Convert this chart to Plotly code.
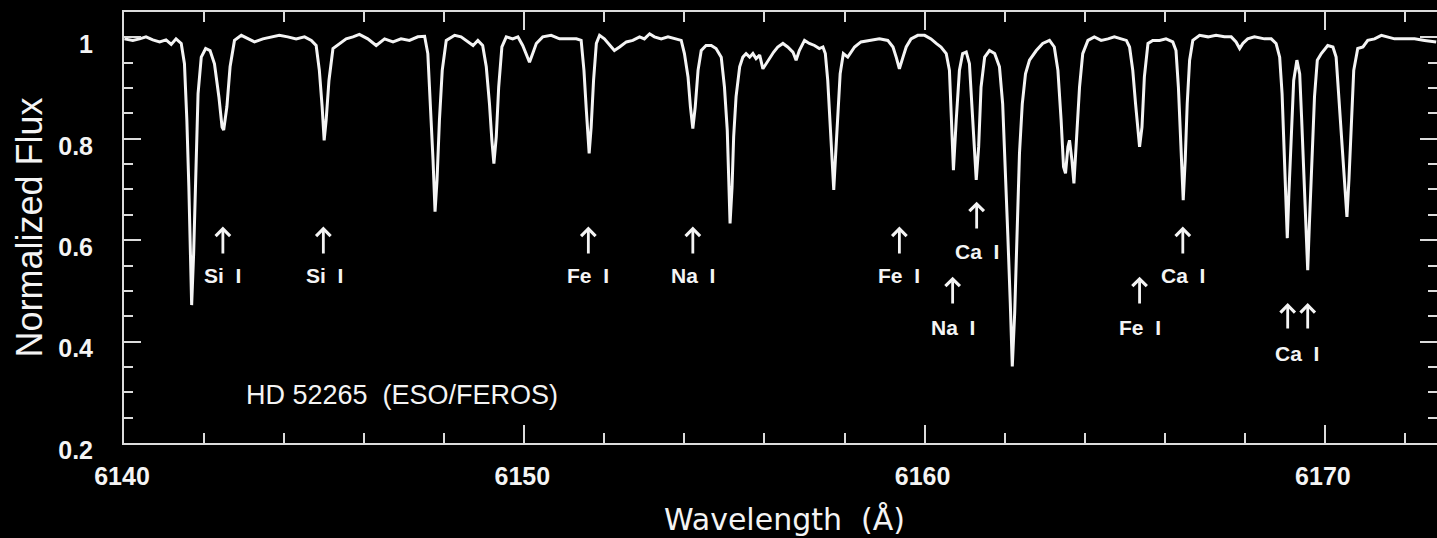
import plotly.graph_objects as go

# ---- spectrum ----
wavelength = [
    6140.01, 6140.22, 6140.39, 6140.55, 6140.72, 6140.89, 6141.05, 6141.18, 6141.30, 6141.43,
    6141.51, 6141.57, 6141.62, 6141.66, 6141.69, 6141.74, 6141.79, 6141.85, 6141.93, 6142.04,
    6142.15, 6142.26, 6142.37, 6142.45, 6142.49, 6142.57, 6142.65, 6142.76, 6142.93, 6143.09,
    6143.26, 6143.47, 6143.68, 6143.88, 6144.09, 6144.30, 6144.51, 6144.68, 6144.80, 6144.88,
    6144.95, 6145.00, 6145.05, 6145.12, 6145.22, 6145.38, 6145.55, 6145.72, 6145.88, 6146.09,
    6146.30, 6146.51, 6146.72, 6146.92, 6147.13, 6147.34, 6147.51, 6147.59, 6147.66, 6147.72,
    6147.77, 6147.82, 6147.88, 6147.95, 6148.05,
    6148.26, 6148.42, 6148.59, 6148.72, 6148.84, 6148.96, 6149.05, 6149.13, 6149.19, 6149.24,
    6149.30, 6149.36, 6149.44, 6149.55, 6149.71, 6149.84, 6149.96, 6150.07, 6150.13, 6150.21,
    6150.30, 6150.46, 6150.67, 6150.88, 6151.09, 6151.30, 6151.42, 6151.49, 6151.55, 6151.59,
    6151.62, 6151.67, 6151.73, 6151.80, 6151.88, 6152.00, 6152.13, 6152.25, 6152.38, 6152.55,
    6152.71, 6152.88, 6153.00, 6153.13, 6153.25, 6153.42, 6153.59, 6153.75, 6153.92, 6154.00,
    6154.09, 6154.15, 6154.21, 6154.27, 6154.34, 6154.42, 6154.54, 6154.67, 6154.79, 6154.92,
    6155.00, 6155.07, 6155.11, 6155.14, 6155.19, 6155.23, 6155.29, 6155.38, 6155.46, 6155.54,
    6155.63, 6155.71, 6155.79, 6155.88, 6155.96, 6156.04, 6156.13, 6156.23,
    6156.33, 6156.46, 6156.58, 6156.71, 6156.79, 6156.87, 6157.00, 6157.12, 6157.25, 6157.37,
    6157.46, 6157.52, 6157.58, 6157.64, 6157.69, 6157.73, 6157.77, 6157.83, 6157.89, 6157.97,
    6158.08, 6158.25, 6158.41, 6158.62, 6158.87, 6159.08, 6159.21, 6159.29, 6159.37, 6159.46,
    6159.54, 6159.66, 6159.83, 6160.00, 6160.16, 6160.29, 6160.41, 6160.54, 6160.62, 6160.67,
    6160.72, 6160.79, 6160.87, 6160.95, 6161.04, 6161.12, 6161.18, 6161.25, 6161.29, 6161.35,
    6161.41, 6161.50, 6161.62, 6161.75, 6161.87, 6161.95, 6162.02, 6162.08, 6162.14, 6162.19,
    6162.25, 6162.30, 6162.37, 6162.44, 6162.52, 6162.62, 6162.79, 6162.95, 6163.12, 6163.24,
    6163.33, 6163.41, 6163.47, 6163.52, 6163.58, 6163.62, 6163.68, 6163.73, 6163.79, 6163.87,
    6163.95, 6164.08, 6164.24,
    6164.41, 6164.58, 6164.74, 6164.91, 6165.04, 6165.12, 6165.20, 6165.27, 6165.33, 6165.37,
    6165.43, 6165.49, 6165.58, 6165.70, 6165.87, 6166.03, 6166.20, 6166.28, 6166.34, 6166.39,
    6166.43, 6166.46, 6166.51, 6166.56, 6166.62, 6166.70, 6166.87, 6167.08, 6167.28, 6167.49,
    6167.66, 6167.78, 6167.87, 6167.95, 6168.07, 6168.24, 6168.49, 6168.66, 6168.78, 6168.87,
    6168.93, 6168.99, 6169.03, 6169.06, 6169.10, 6169.16, 6169.22, 6169.30, 6169.37, 6169.42,
    6169.49, 6169.54, 6169.57, 6169.61, 6169.67, 6169.74, 6169.81, 6169.91, 6170.07, 6170.20,
    6170.28, 6170.36, 6170.45, 6170.51, 6170.55, 6170.60, 6170.66, 6170.72, 6170.82, 6170.95,
    6171.07, 6171.24, 6171.41, 6171.57, 6171.74, 6171.91, 6172.07, 6172.24, 6172.49, 6172.78,
]
flux = [
    0.997, 0.994, 0.997, 1.001, 0.995, 0.991, 0.995, 0.986, 0.997, 0.988,
    0.948, 0.837, 0.705, 0.541, 0.472, 0.574, 0.738, 0.889, 0.961, 0.978,
    0.974, 0.948, 0.883, 0.823, 0.817, 0.863, 0.942, 0.994, 1.004, 0.997,
    0.991, 0.997, 1.001, 1.004, 1.001, 0.997, 1.001, 0.994, 0.984, 0.935,
    0.863, 0.797, 0.837, 0.915, 0.978, 0.988, 0.997, 1.001, 1.006, 0.997,
    0.984, 0.997, 0.991, 0.997, 0.994, 1.001, 1.002, 0.968, 0.869, 0.758,
    0.656, 0.719, 0.837, 0.935, 0.994,
    1.004, 1.001, 0.991, 0.984, 0.994, 0.984, 0.942, 0.869, 0.797, 0.751,
    0.804, 0.902, 0.981, 1.001, 0.997, 1.001, 0.984, 0.961, 0.951, 0.968,
    0.988, 1.001, 1.004, 0.997, 0.997, 0.997, 0.994, 0.935, 0.856, 0.797,
    0.771, 0.823, 0.915, 0.988, 1.004, 0.997, 0.984, 0.974, 0.981, 0.991,
    0.994, 1.001, 0.997, 1.007, 1.001, 0.997, 1.001, 0.997, 0.994, 0.968,
    0.922, 0.863, 0.820, 0.863, 0.935, 0.974, 0.984, 0.984, 0.978, 0.961,
    0.902, 0.817, 0.732, 0.633, 0.705, 0.804, 0.883, 0.942, 0.961, 0.968,
    0.961, 0.968, 0.958, 0.965, 0.938, 0.948, 0.961, 0.971,
    0.981, 0.988, 0.981, 0.971, 0.955, 0.974, 0.994, 0.988, 0.984, 0.978,
    0.981, 0.968, 0.915, 0.823, 0.745, 0.699, 0.758, 0.850, 0.928, 0.968,
    0.961, 0.981, 0.991, 0.994, 0.997, 0.994, 0.981, 0.961, 0.938, 0.961,
    0.981, 0.997, 1.004, 1.004, 0.997, 0.988, 0.981, 0.968, 0.935, 0.837,
    0.738, 0.837, 0.935, 0.968, 0.971, 0.948, 0.869, 0.771, 0.719, 0.784,
    0.902, 0.961, 0.974, 0.968, 0.942, 0.869, 0.738, 0.607, 0.476, 0.351,
    0.456, 0.607, 0.771, 0.869, 0.928, 0.955, 0.974, 0.988, 0.994, 0.981,
    0.935, 0.837, 0.745, 0.732, 0.784, 0.797, 0.758, 0.712, 0.784, 0.902,
    0.968, 0.994, 1.001,
    0.994, 0.997, 1.001, 0.997, 0.994, 0.981, 0.935, 0.869, 0.810, 0.784,
    0.823, 0.922, 0.988, 0.994, 0.994, 0.997, 0.991, 0.974, 0.902, 0.804,
    0.719, 0.679, 0.758, 0.869, 0.955, 0.994, 1.004, 1.001, 1.004, 1.001,
    1.001, 0.991, 0.978, 0.988, 0.997, 1.001, 0.997, 0.997, 0.988, 0.961,
    0.889, 0.771, 0.666, 0.604, 0.692, 0.817, 0.915, 0.955, 0.928, 0.837,
    0.705, 0.587, 0.541, 0.627, 0.758, 0.883, 0.955, 0.968, 0.984, 0.981,
    0.961, 0.869, 0.771, 0.686, 0.646, 0.719, 0.837, 0.935, 0.978, 0.981,
    0.994, 0.997, 1.004, 1.001, 0.997, 0.997, 0.997, 0.997, 0.994, 0.991,
]

# ---- axis ticks ----
x_tick_vals = [6140, 6150, 6160, 6170]
x_tick_text = ["6140", "6150", "6160", "6170"]
y_tick_vals = [0.2, 0.4, 0.6, 0.8, 1.0]
y_tick_text = ["0.2", "0.4", "0.6", "0.8", "1"]

# ---- line identifications ----
NB = "\u00a0\u00a0"
label_text = ["Si" + NB + "I", "Si" + NB + "I", "Fe" + NB + "I", "Na" + NB + "I", "Fe" + NB + "I",
              "Ca" + NB + "I", "Na" + NB + "I", "Ca" + NB + "I", "Fe" + NB + "I", "Ca" + NB + "I"]
label_x = [6142.45, 6145.00, 6151.60, 6154.21, 6159.37, 6161.30, 6160.70, 6166.45, 6165.37, 6169.30]
label_y = [0.530, 0.530, 0.530, 0.530, 0.530, 0.577, 0.427, 0.530, 0.427, 0.377]

arrow_x = [6142.47, 6144.98, 6151.60, 6154.21, 6159.37, 6161.30, 6160.70, 6166.45, 6165.37, 6169.07, 6169.57]
arrow_head = [0.627, 0.627, 0.627, 0.627, 0.627, 0.676, 0.528, 0.627, 0.528, 0.476, 0.476]
arrow_tail = [0.571, 0.571, 0.571, 0.571, 0.571, 0.620, 0.472, 0.571, 0.472, 0.423, 0.423]

star_label = "HD 52265" + NB + "(ESO/FEROS)"
star_x, star_y = 6146.95, 0.295

AXC = "#dcdcdc"
WHITE = "#f4f4f4"

fig = go.Figure()
fig.add_trace(go.Scatter(x=wavelength, y=flux, mode="lines",
                         line=dict(color=WHITE, width=3), hoverinfo="skip",
                         showlegend=False))

annotations = []
for t, x, y in zip(label_text, label_x, label_y):
    annotations.append(dict(x=x, y=y, xref="x", yref="y", text=t, showarrow=False,
                            xanchor="center", yanchor="middle",
                            font=dict(family="Liberation Sans, Arial", size=21,
                                      color=WHITE, weight="bold")))
for x, yh, yt in zip(arrow_x, arrow_head, arrow_tail):
    annotations.append(dict(x=x, y=yh, ax=x, ay=yt, xref="x", yref="y",
                            axref="x", ayref="y", text="", showarrow=True,
                            arrowhead=4, arrowsize=1, arrowwidth=2.8,
                            arrowcolor=WHITE, standoff=0, startstandoff=0))
annotations.append(dict(x=star_x, y=star_y, xref="x", yref="y", text=star_label,
                        showarrow=False, xanchor="center", yanchor="middle",
                        font=dict(family="Liberation Sans, Arial", size=27, color=WHITE)))
# axis titles
annotations.append(dict(x=-0.0716, y=0.5, xref="paper", yref="paper",
                        text="Normalized Flux", textangle=-90, showarrow=False,
                        xanchor="center", yanchor="middle",
                        font=dict(family="Liberation Sans, Arial", size=36, color=WHITE)))
annotations.append(dict(x=0.5034, y=-0.178, xref="paper", yref="paper",
                        text="Wavelength" + NB + "(Å)", showarrow=False,
                        xanchor="center", yanchor="middle",
                        font=dict(family="DejaVu Sans", size=30, color=WHITE)))

tickfont = dict(family="Liberation Sans, Arial", size=25, color=WHITE, weight="bold")

fig.update_layout(
    width=1437, height=538,
    margin=dict(l=124, r=0, t=12, b=95, autoexpand=False),
    paper_bgcolor="black", plot_bgcolor="black",
    annotations=annotations,
    xaxis=dict(range=[6140, 6172.8], showline=True, linecolor=AXC, linewidth=2,
               mirror="ticks", ticks="inside", ticklen=18, tickwidth=2, tickcolor=AXC,
               tickvals=x_tick_vals, ticktext=x_tick_text, tickfont=tickfont,
               ticklabelstandoff=10, ticklabelshift=-2,
               showgrid=False, zeroline=False, automargin=False,
               minor=dict(ticks="inside", ticklen=10, tickwidth=2, tickcolor=AXC,
                          dtick=2, tick0=6140, showgrid=False)),
    yaxis=dict(range=[0.2, 1.05], showline=True, linecolor=AXC, linewidth=2,
               mirror="ticks", ticks="inside", ticklen=17, tickwidth=2, tickcolor=AXC,
               tickvals=y_tick_vals, ticktext=y_tick_text, tickfont=tickfont,
               ticklabelstandoff=24, ticklabelshift=7,
               showgrid=False, zeroline=False, automargin=False,
               minor=dict(ticks="inside", ticklen=9, tickwidth=2, tickcolor=AXC,
                          dtick=0.05, tick0=0.2, showgrid=False)),
)

fig.write_html(
    "out.html",
    config={"displayModeBar": False},
    post_script=("document.body.style.margin='0';"
                 "document.body.style.background='black';"
                 "document.documentElement.style.overflow='hidden';"),
)
